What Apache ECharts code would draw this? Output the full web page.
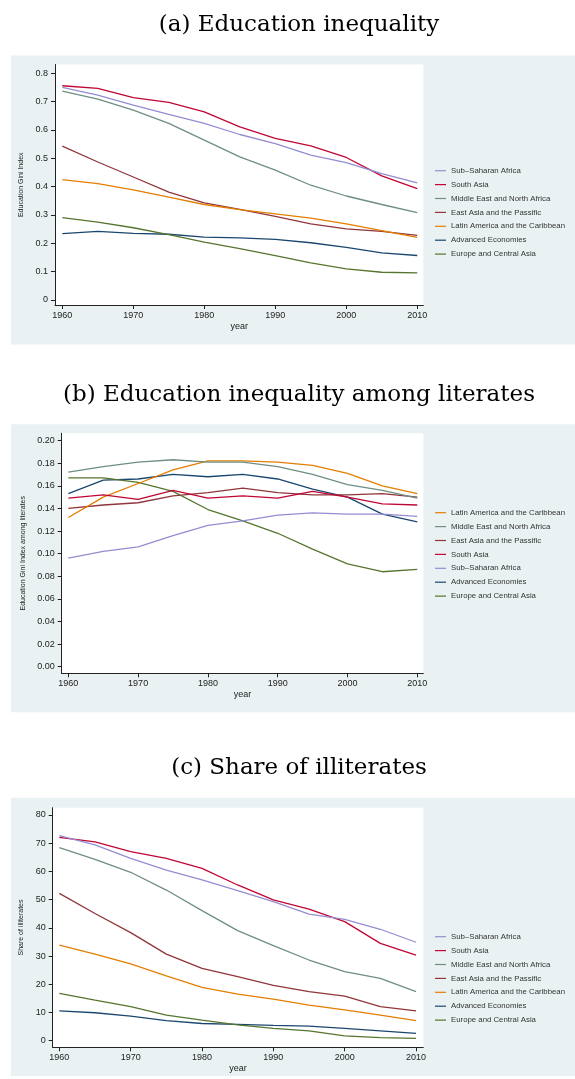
<!DOCTYPE html>
<html>
<head>
<meta charset="utf-8">
<script src="https://cdn.jsdelivr.net/npm/echarts@6/dist/echarts.min.js"></script>
<style>
  html, body { margin: 0; padding: 0; background: #ffffff; }
  #chart { width: 575px; height: 1079px; }
</style>
</head>
<body>
<div id="chart"></div>
<script>
// ---------- DATA ----------
const years = [1960, 1965, 1970, 1975, 1980, 1985, 1990, 1995, 2000, 2005, 2010];
const yearTicks = [1960, 1970, 1980, 1990, 2000, 2010];

const panelTitles = ['(a) Education inequality', '(b) Education inequality among literates', '(c) Share of illiterates'];
const yAxisNames = ['Education Gini Index', 'Education Gini Index among literates', 'Share of illiterates'];
const xAxisName = 'year';

const yTicksA = [0, 0.1, 0.2, 0.3, 0.4, 0.5, 0.6, 0.7, 0.8];
const yTicksB = [0, 0.02, 0.04, 0.06, 0.08, 0.10, 0.12, 0.14, 0.16, 0.18, 0.20];
const yTicksC = [0, 10, 20, 30, 40, 50, 60, 70, 80];

const regions = ['Advanced Economies', 'East Asia and the Passific', 'Europe and Central Asia',
  'Latin America and the Caribbean', 'Middle East and North Africa', 'South Asia', 'Sub–Saharan Africa'];

const legendOrderA = ['Sub–Saharan Africa', 'South Asia', 'Middle East and North Africa', 'East Asia and the Passific',
  'Latin America and the Caribbean', 'Advanced Economies', 'Europe and Central Asia'];
const legendOrderB = ['Latin America and the Caribbean', 'Middle East and North Africa', 'East Asia and the Passific',
  'South Asia', 'Sub–Saharan Africa', 'Advanced Economies', 'Europe and Central Asia'];
const legendOrderC = legendOrderA;

// (a) Education Gini index
const giniAdvanced = [0.234, 0.242, 0.235, 0.232, 0.222, 0.219, 0.214, 0.202, 0.186, 0.166, 0.157];
const giniEastAsia = [0.543, 0.487, 0.434, 0.381, 0.343, 0.320, 0.295, 0.269, 0.251, 0.242, 0.228];
const giniEurope = [0.291, 0.275, 0.255, 0.231, 0.204, 0.181, 0.157, 0.131, 0.110, 0.098, 0.096];
const giniLatin = [0.425, 0.411, 0.389, 0.363, 0.337, 0.319, 0.304, 0.289, 0.269, 0.245, 0.221];
const giniMENA = [0.737, 0.709, 0.670, 0.623, 0.564, 0.505, 0.458, 0.405, 0.367, 0.337, 0.308];
const giniSouthAsia = [0.756, 0.747, 0.714, 0.697, 0.664, 0.611, 0.570, 0.544, 0.503, 0.438, 0.393];
const giniSSA = [0.750, 0.723, 0.688, 0.655, 0.623, 0.584, 0.552, 0.511, 0.485, 0.446, 0.413];

// (b) Education Gini index among literates
const litAdvanced = [0.153, 0.165, 0.166, 0.170, 0.168, 0.170, 0.166, 0.157, 0.150, 0.135, 0.128];
const litEastAsia = [0.140, 0.143, 0.145, 0.151, 0.154, 0.158, 0.154, 0.152, 0.152, 0.153, 0.150];
const litEurope = [0.167, 0.167, 0.163, 0.155, 0.139, 0.129, 0.118, 0.104, 0.091, 0.084, 0.086];
const litLatin = [0.132, 0.150, 0.162, 0.174, 0.182, 0.182, 0.181, 0.178, 0.171, 0.160, 0.153];
const litMENA = [0.172, 0.177, 0.181, 0.183, 0.181, 0.181, 0.177, 0.170, 0.161, 0.156, 0.149];
const litSouthAsia = [0.149, 0.152, 0.148, 0.156, 0.149, 0.151, 0.149, 0.155, 0.150, 0.144, 0.143];
const litSSA = [0.096, 0.102, 0.106, 0.116, 0.125, 0.129, 0.134, 0.136, 0.135, 0.135, 0.133];

// (c) Share of illiterates
const illAdvanced = [10.6, 9.9, 8.7, 7.1, 6.1, 5.8, 5.4, 5.2, 4.4, 3.5, 2.6];
const illEastAsia = [52.2, 45.1, 38.3, 30.7, 25.6, 22.7, 19.6, 17.4, 15.8, 12.1, 10.6];
const illEurope = [16.8, 14.4, 12.1, 9.1, 7.3, 5.6, 4.4, 3.5, 1.7, 1.1, 0.8];
const illLatin = [33.9, 30.7, 27.2, 23.0, 18.9, 16.5, 14.7, 12.6, 10.9, 9.1, 7.1];
const illMENA = [68.4, 64.3, 59.7, 53.4, 46.1, 39.0, 33.7, 28.6, 24.5, 22.1, 17.4];
const illSouthAsia = [72.1, 70.5, 67.0, 64.6, 61.1, 55.2, 49.9, 46.6, 42.2, 34.5, 30.3];
const illSSA = [72.7, 69.4, 64.6, 60.5, 57.0, 53.2, 49.3, 44.9, 43.0, 39.5, 34.9];

// ---------- STYLE ----------
const regionColors = {
  'Advanced Economies': '#1a476f',
  'East Asia and the Passific': '#90353b',
  'Europe and Central Asia': '#55752f',
  'Latin America and the Caribbean': '#e37e00',
  'Middle East and North Africa': '#6e8e84',
  'South Asia': '#c10534',
  'Sub–Saharan Africa': '#938dd2'
};
const boxColor = '#eaf1f3';
const sansFont = 'Liberation Sans, Arial, sans-serif';
const serifFont = 'DejaVu Serif, serif';

const panelSeries = [
  [giniAdvanced, giniEastAsia, giniEurope, giniLatin, giniMENA, giniSouthAsia, giniSSA],
  [litAdvanced, litEastAsia, litEurope, litLatin, litMENA, litSouthAsia, litSSA],
  [illAdvanced, illEastAsia, illEurope, illLatin, illMENA, illSouthAsia, illSSA]
];
const yTicks = [yTicksA, yTicksB, yTicksC];
const legendOrders = [legendOrderA, legendOrderB, legendOrderC];

// layout per panel (pixels)
const layout = [
  { box: [11, 55.5, 564, 289], titleY: 25, grid: { left: 55, right: 151.7, top: 64.5, height: 240.5 },
    xRange: [1958.97, 2010.85], yRange: [-0.0176, 0.831], nameGap: 26.5, legendTop: 165.7 },
  { box: [11, 424.3, 564, 288], titleY: 395, grid: { left: 61.7, right: 151.7, top: 433.3, height: 240 },
    xRange: [1959.05, 2010.86], yRange: [-0.0058, 0.2064], nameGap: 33, legendTop: 507.7 },
  { box: [11, 797.7, 564, 278.3], titleY: 768, grid: { left: 52.7, right: 151.7, top: 807.7, height: 239.6 },
    xRange: [1959.07, 2011.02], yRange: [-2.34, 82.59], nameGap: 24, legendTop: 931.7 }
];

const grids = [], xAxes = [], yAxes = [], series = [], legends = [], graphics = [];

layout.forEach((L, p) => {
  graphics.push({
    type: 'rect', z: -100, silent: true,
    shape: { x: L.box[0], y: L.box[1], width: L.box[2], height: L.box[3] },
    style: { fill: boxColor }
  });
  graphics.push({
    type: 'text', z: 10, silent: true,
    style: { x: 299, y: L.titleY, text: panelTitles[p], textAlign: 'center', textVerticalAlign: 'middle',
      font: '23px ' + serifFont, fill: '#000' }
  });
  grids.push(Object.assign({ show: true, backgroundColor: '#ffffff', borderWidth: 0 }, L.grid));
  xAxes.push({
    gridIndex: p, type: 'value', min: L.xRange[0], max: L.xRange[1],
    name: xAxisName, nameLocation: 'middle', nameGap: 17,
    nameTextStyle: { fontFamily: sansFont, fontSize: 9, color: '#222' },
    axisLine: { show: true, onZero: false, lineStyle: { color: '#222', width: 1 } },
    axisTick: { show: true, length: 4, customValues: yearTicks, lineStyle: { color: '#222' } },
    axisLabel: { customValues: yearTicks, margin: 6, fontFamily: sansFont, fontSize: 9, color: '#222',
      formatter: v => String(Math.round(v)) },
    splitLine: { show: false }
  });
  const decimals = p === 1 ? 2 : null;
  yAxes.push({
    gridIndex: p, type: 'value', min: L.yRange[0], max: L.yRange[1],
    name: yAxisNames[p], nameLocation: 'middle', nameGap: L.nameGap, nameRotate: 90,
    nameTextStyle: { fontFamily: sansFont, fontSize: 7, color: '#222' },
    axisLine: { show: true, onZero: false, lineStyle: { color: '#222', width: 1 } },
    axisTick: { show: true, length: 4, customValues: yTicks[p], lineStyle: { color: '#222' } },
    axisLabel: { customValues: yTicks[p], margin: 7, fontFamily: sansFont, fontSize: 9, color: '#222',
      formatter: v => decimals ? v.toFixed(decimals) : String(Math.round(v * 100) / 100) },
    splitLine: { show: false }
  });
  panelSeries[p].forEach((arr, i) => {
    const name = regions[i];
    series.push({
      type: 'line', name: name, xAxisIndex: p, yAxisIndex: p,
      data: years.map((yr, k) => [yr, arr[k]]),
      symbol: 'none', showSymbol: false, animation: false,
      lineStyle: { width: 1.3, color: regionColors[name] },
      itemStyle: { color: regionColors[name] }
    });
  });
  legends.push({
    data: legendOrders[p].map(n => ({ name: n, icon: 'rect' })),
    orient: 'vertical', left: 435, top: L.legendTop, padding: 0,
    itemWidth: 11, itemHeight: 1.2, itemGap: 3.9, selectedMode: false,
    textStyle: { fontFamily: sansFont, fontSize: 7.8, color: '#333', lineHeight: 10 }
  });
});

const chart = echarts.init(document.getElementById('chart'), null, { renderer: 'canvas' });
chart.setOption({
  backgroundColor: '#ffffff',
  animation: false,
  graphic: graphics,
  grid: grids,
  xAxis: xAxes,
  yAxis: yAxes,
  legend: legends,
  series: series
});
</script>
</body>
</html>
